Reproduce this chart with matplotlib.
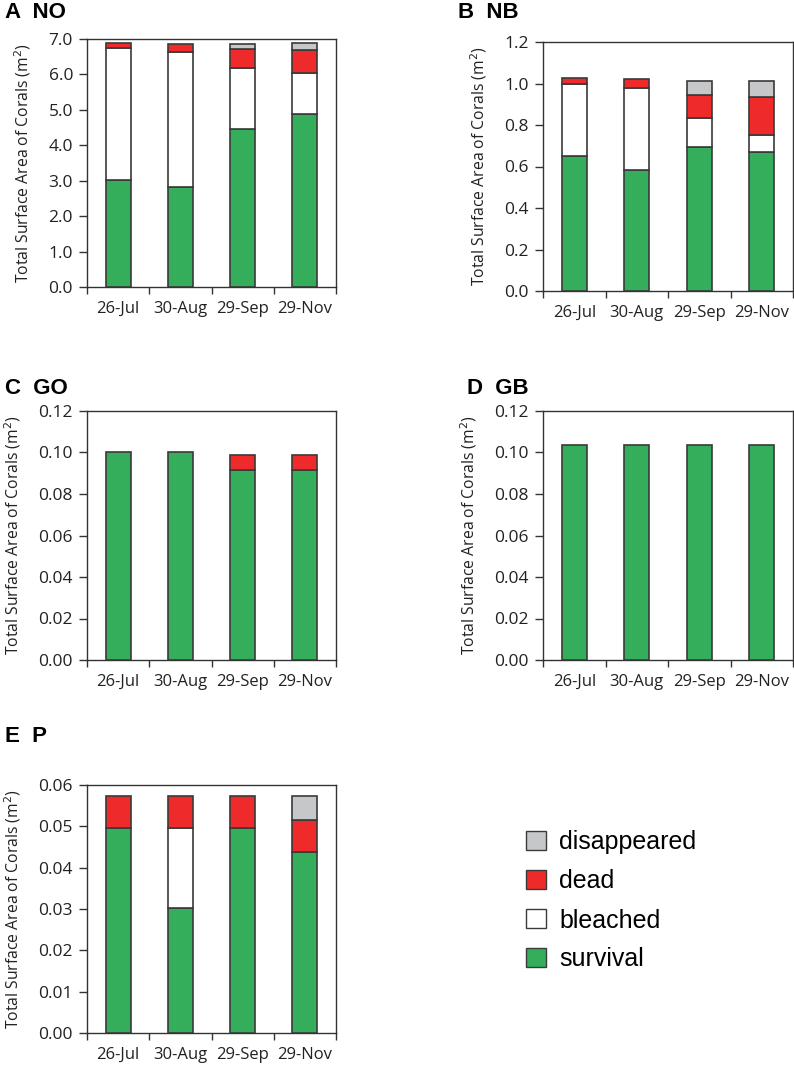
import matplotlib
matplotlib.use('Agg')
import matplotlib.pyplot as plt
from matplotlib.patches import Patch

# dates and stacked layers (m2)
dates = ['26-Jul', '30-Aug', '29-Sep', '29-Nov']

no_survival = [3.01, 2.82, 4.45, 4.89]
no_bleached = [3.73, 3.82, 1.73, 1.14]
no_dead = [0.16, 0.21, 0.55, 0.65]
no_disappeared = [0.0, 0.0, 0.14, 0.21]

nb_survival = [0.653, 0.585, 0.695, 0.672]
nb_bleached = [0.343, 0.391, 0.140, 0.079]
nb_dead = [0.032, 0.047, 0.108, 0.182]
nb_disappeared = [0.0, 0.0, 0.069, 0.079]

go_survival = [0.100, 0.100, 0.0917, 0.0917]
go_bleached = [0.0, 0.0, 0.0, 0.0]
go_dead = [0.0, 0.0, 0.0072, 0.0072]
go_disappeared = [0.0, 0.0, 0.0, 0.0]

gb_survival = [0.1035, 0.1035, 0.1035, 0.1035]
gb_bleached = [0.0, 0.0, 0.0, 0.0]
gb_dead = [0.0, 0.0, 0.0, 0.0]
gb_disappeared = [0.0, 0.0, 0.0, 0.0]

p_survival = [0.0495, 0.0302, 0.0495, 0.0438]
p_bleached = [0.0, 0.0193, 0.0, 0.0]
p_dead = [0.0078, 0.0078, 0.0078, 0.0078]
p_disappeared = [0.0, 0.0, 0.0, 0.0057]

layer_names = ['survival', 'bleached', 'dead', 'disappeared']
layer_colors = ['#35ae5b', '#ffffff', '#ee2a2a', '#c6c7c9']
edge = '#3a3a3a'

tick_font = 'Open Sans'
title_font = 'Liberation Sans'

fig = plt.figure(figsize=(7.94, 10.66), dpi=100)
W, H = 794.0, 1066.0


def px_axes(left, top, right, bottom):
    return fig.add_axes([left / W, 1 - bottom / H, (right - left) / W, (bottom - top) / H])


panels = [
    ('A  NO', (87, 39, 336, 287), [no_survival, no_bleached, no_dead, no_disappeared], 7.0, 1.0, '%.1f', (5, 13)),
    ('B  NB', (543, 42, 793, 291), [nb_survival, nb_bleached, nb_dead, nb_disappeared], 1.2, 0.2, '%.1f', (458, 13)),
    ('C  GO', (87, 411, 336, 660), [go_survival, go_bleached, go_dead, go_disappeared], 0.12, 0.02, '%.2f', (5, 388)),
    ('D  GB', (543, 411, 793, 660), [gb_survival, gb_bleached, gb_dead, gb_disappeared], 0.12, 0.02, '%.2f', (467, 388)),
    ('E  P', (87, 785, 336, 1033), [p_survival, p_bleached, p_dead, p_disappeared], 0.06, 0.01, '%.2f', (5, 737)),
]

for title, box, layers, ymax, step, fmt, tpos in panels:
    ax = px_axes(*box)
    x = list(range(len(dates)))
    bottom = [0.0] * len(dates)
    for vals, col in zip(layers, layer_colors):
        keep = [i for i in x if vals[i] > 0]
        ax.bar([x[i] for i in keep], [vals[i] for i in keep], width=0.4,
               bottom=[bottom[i] for i in keep], color=col, edgecolor=edge, linewidth=1.2, zorder=3)
        bottom = [b + h for b, h in zip(bottom, vals)]
    ax.set_xlim(-0.5, 3.5)
    ax.set_ylim(0, ymax)
    n = int(round(ymax / step))
    yt = [i * step for i in range(n + 1)]
    ax.set_yticks(yt)
    ax.set_yticklabels([fmt % v for v in yt], fontfamily=tick_font, fontsize=12.5, color='#222222')
    ax.set_xticks([-0.5, 0.5, 1.5, 2.5, 3.5])
    ax.set_xticklabels([])
    ax.set_xticks(x, minor=True)
    ax.set_xticklabels(dates, minor=True, fontfamily=tick_font, fontsize=12, color='#222222')
    ax.tick_params(axis='x', which='minor', length=0, pad=10)
    ax.tick_params(axis='x', which='major', direction='out', length=5, width=1, color='#333333')
    ax.tick_params(axis='y', direction='out', length=6, width=1, color='#333333', pad=4)
    for s in ax.spines.values():
        s.set_color('#333333')
        s.set_linewidth(1.0)
    ax.set_ylabel('Total Surface Area of Corals (m$^2$)', fontfamily=tick_font, fontsize=11.3,
                  color='#222222', labelpad=11)
    fig.text(tpos[0] / W, 1 - tpos[1] / H, title, fontfamily=title_font, fontweight='bold',
             fontsize=16, va='center', ha='left')

handles = [Patch(facecolor=c, edgecolor=edge, linewidth=1.0) for c in layer_colors]
leg = fig.legend(handles[::-1], layer_names[::-1], loc='upper left',
                 bbox_to_anchor=(503 / W, 1 - 808 / H), frameon=False,
                 prop={'family': title_font, 'size': 18},
                 handlelength=0.8, handleheight=0.8, handletextpad=0.55, labelspacing=0.6)

plt.savefig('out.png', dpi=100)
